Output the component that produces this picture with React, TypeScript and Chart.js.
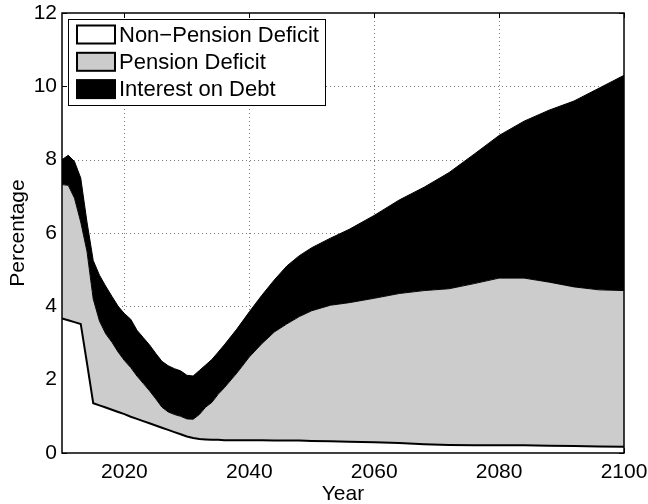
import React, { useEffect, useRef } from "react";
import { Chart, registerables } from "chart.js";

Chart.register(...registerables);

// ---- data ----
const years = [
  2010, 2011, 2012, 2013, 2014, 2015, 2016, 2017, 2018, 2019, 2020, 2021, 2022,
  2023, 2024, 2025, 2026, 2027, 2028, 2029, 2030, 2031, 2032, 2033, 2034, 2035,
  2036, 2038, 2040, 2042, 2044, 2046, 2048, 2050, 2053, 2056, 2060, 2064, 2068,
  2072, 2076, 2080, 2084, 2088, 2092, 2096, 2100,
];
const nonPensionDeficit = [
  3.67, 3.62, 3.57, 3.52, 2.45, 1.36, 1.3, 1.24, 1.18, 1.12, 1.06, 0.99, 0.93,
  0.87, 0.81, 0.75, 0.69, 0.63, 0.57, 0.51, 0.45, 0.41, 0.38, 0.37, 0.36, 0.36,
  0.35, 0.35, 0.35, 0.35, 0.34, 0.34, 0.34, 0.33, 0.32, 0.31, 0.29, 0.27, 0.24,
  0.22, 0.21, 0.21, 0.21, 0.2, 0.19, 0.18, 0.17,
];
const pensionDeficit = [
  3.65, 3.68, 3.38, 2.78, 3.05, 2.84, 2.3, 2.01, 1.84, 1.63, 1.46, 1.34, 1.17,
  1.03, 0.89, 0.73, 0.56, 0.49, 0.48, 0.49, 0.48, 0.51, 0.67, 0.88, 1.02, 1.24,
  1.43, 1.83, 2.27, 2.63, 2.96, 3.18, 3.38, 3.55, 3.71, 3.79, 3.93, 4.08, 4.19,
  4.26, 4.41, 4.56, 4.56, 4.46, 4.34, 4.27, 4.26,
];
const interestOnDebt = [
  0.68, 0.82, 1.0, 1.2, 0.8, 1.05, 1.25, 1.3, 1.25, 1.25, 1.28, 1.32, 1.25,
  1.25, 1.25, 1.24, 1.25, 1.26, 1.25, 1.24, 1.19, 1.18, 1.2, 1.15, 1.17, 1.15,
  1.17, 1.2, 1.23, 1.32, 1.42, 1.58, 1.66, 1.72, 1.83, 2.0, 2.26, 2.55, 2.82,
  3.17, 3.53, 3.89, 4.28, 4.69, 5.07, 5.5, 5.87,
];
const seriesNames = ["Non\u2212Pension Deficit", "Pension Deficit", "Interest on Debt"];
const seriesFills = ["#ffffff", "#cccccc", "#000000"];
const xTickValues = [2020, 2040, 2060, 2080, 2100];
const yTickValues = [0, 2, 4, 6, 8, 10, 12];
const xTitle = "Year";
const yTitle = "Percentage";

const FAMILY = '"Liberation Sans", Arial, Helvetica, sans-serif';

export default function App() {
  const ref = useRef<HTMLCanvasElement>(null);

  useEffect(() => {
    document.body.style.margin = "0";
    const canvas = ref.current;
    if (!canvas) return;

    const series = [nonPensionDeficit, pensionDeficit, interestOnDebt];
    const datasets = series.map((vals, i) => ({
      label: seriesNames[i],
      data: years.map((x, j) => ({ x, y: vals[j] })),
      backgroundColor: seriesFills[i],
      borderColor: "#000000",
      borderWidth: i === 0 ? 2 : 1,
      fill: i === 0 ? "origin" : "-1",
      pointRadius: 0,
      pointHoverRadius: 0,
      tension: 0,
    }));

    const framePlugin = {
      id: "matlabFrame",
      beforeDatasetsDraw(chart: any) {
        const { ctx, chartArea: a, scales } = chart;
        const xs = scales.x;
        const ys = scales.y;
        ctx.save();
        // dotted grid
        ctx.strokeStyle = "#7a7a7a";
        ctx.lineWidth = 1;
        ctx.setLineDash([1, 3]);
        ctx.beginPath();
        xTickValues.forEach((v) => {
          const px = Math.round(xs.getPixelForValue(v)) + 0.5;
          if (px > a.left + 2 && px < a.right - 2) {
            ctx.moveTo(px, a.top);
            ctx.lineTo(px, a.bottom);
          }
        });
        yTickValues.forEach((v) => {
          const py = Math.round(ys.getPixelForValue(v)) + 0.5;
          if (py > a.top + 2 && py < a.bottom - 2) {
            ctx.moveTo(a.left, py);
            ctx.lineTo(a.right, py);
          }
        });
        ctx.stroke();
        // inward tick marks
        ctx.setLineDash([]);
        ctx.strokeStyle = "#000000";
        ctx.lineWidth = 1;
        const tl = 5;
        ctx.beginPath();
        xTickValues.forEach((v) => {
          const px = Math.round(xs.getPixelForValue(v)) + 0.5;
          ctx.moveTo(px, a.bottom);
          ctx.lineTo(px, a.bottom - tl);
          ctx.moveTo(px, a.top);
          ctx.lineTo(px, a.top + tl);
        });
        yTickValues.forEach((v) => {
          const py = Math.round(ys.getPixelForValue(v)) + 0.5;
          ctx.moveTo(a.left, py);
          ctx.lineTo(a.left + tl, py);
          ctx.moveTo(a.right, py);
          ctx.lineTo(a.right - tl, py);
        });
        ctx.stroke();
        ctx.restore();
      },
      afterDatasetsDraw(chart: any) {
        const { ctx, chartArea: a } = chart;
        ctx.save();
        ctx.strokeStyle = "#000000";
        ctx.lineWidth = 1.5;
        ctx.strokeRect(a.left, a.top, a.right - a.left, a.bottom - a.top);
        ctx.restore();
      },
      afterDraw(chart: any) {
        const { ctx, chartArea: a } = chart;
        ctx.save();
        const bx = a.left + 6;
        const by = a.top + 6;
        const bw = 257;
        const bh = 86;
        ctx.fillStyle = "#ffffff";
        ctx.fillRect(bx, by, bw, bh);
        ctx.strokeStyle = "#000000";
        ctx.lineWidth = 1;
        ctx.strokeRect(bx + 0.5, by + 0.5, bw, bh);
        ctx.font = `22px ${FAMILY}`;
        ctx.textBaseline = "middle";
        ctx.textAlign = "left";
        seriesNames.forEach((name, i) => {
          const cy = by + 15.5 + i * 27.3;
          ctx.fillStyle = seriesFills[i];
          ctx.fillRect(bx + 9, cy - 9, 38, 18);
          ctx.lineWidth = 2;
          ctx.strokeStyle = "#000000";
          ctx.strokeRect(bx + 9, cy - 9, 38, 18);
          ctx.fillStyle = "#000000";
          ctx.fillText(name, bx + 51, cy + 1);
        });
        ctx.restore();
      },
    };

    const tickFont = { family: FAMILY, size: 21 };

    const chart = new Chart(canvas, {
      type: "line",
      data: { datasets: datasets as any },
      options: {
        animation: false,
        responsive: false,
        devicePixelRatio: 1,
        layout: { padding: { left: 0, right: 24, top: 13, bottom: 0 } },
        plugins: {
          legend: { display: false },
          tooltip: { enabled: false },
        },
        elements: { line: { tension: 0 } },
        scales: {
          x: {
            type: "linear",
            min: 2010,
            max: 2100,
            grid: { display: false, drawTicks: false },
            border: { display: false },
            afterBuildTicks: (s: any) => {
              s.ticks = xTickValues.map((value) => ({ value }));
            },
            ticks: {
              font: tickFont,
              color: "#000000",
              padding: 7,
              maxRotation: 0,
              autoSkip: false,
              callback: (v: any) => String(v),
            },
            title: {
              display: true,
              text: xTitle,
              color: "#000000",
              font: { family: FAMILY, size: 21, lineHeight: 1 },
              padding: { top: 0, bottom: -1 },
            },
            afterFit: (s: any) => {
              s.height = 51;
              s.paddingLeft = 0;
              s.paddingRight = 0;
            },
          },
          y: {
            type: "linear",
            stacked: true,
            min: 0,
            max: 12,
            grid: { display: false, drawTicks: false },
            border: { display: false },
            afterBuildTicks: (s: any) => {
              s.ticks = yTickValues.map((value) => ({ value }));
            },
            ticks: {
              font: tickFont,
              color: "#000000",
              padding: 5,
              autoSkip: false,
              callback: (v: any) => String(v),
            },
            title: {
              display: true,
              text: yTitle,
              color: "#000000",
              font: { family: FAMILY, size: 21, lineHeight: 1 },
              padding: { top: 8, bottom: 0 },
            },
            afterFit: (s: any) => {
              s.width = 62;
              s.paddingTop = 0;
              s.paddingBottom = 0;
            },
          },
        },
      },
      plugins: [framePlugin],
    });

    return () => chart.destroy();
  }, []);

  return (
    <div style={{ width: 648, height: 504 }}>
      <canvas ref={ref} width={648} height={504} style={{ display: "block" }} />
    </div>
  );
}
